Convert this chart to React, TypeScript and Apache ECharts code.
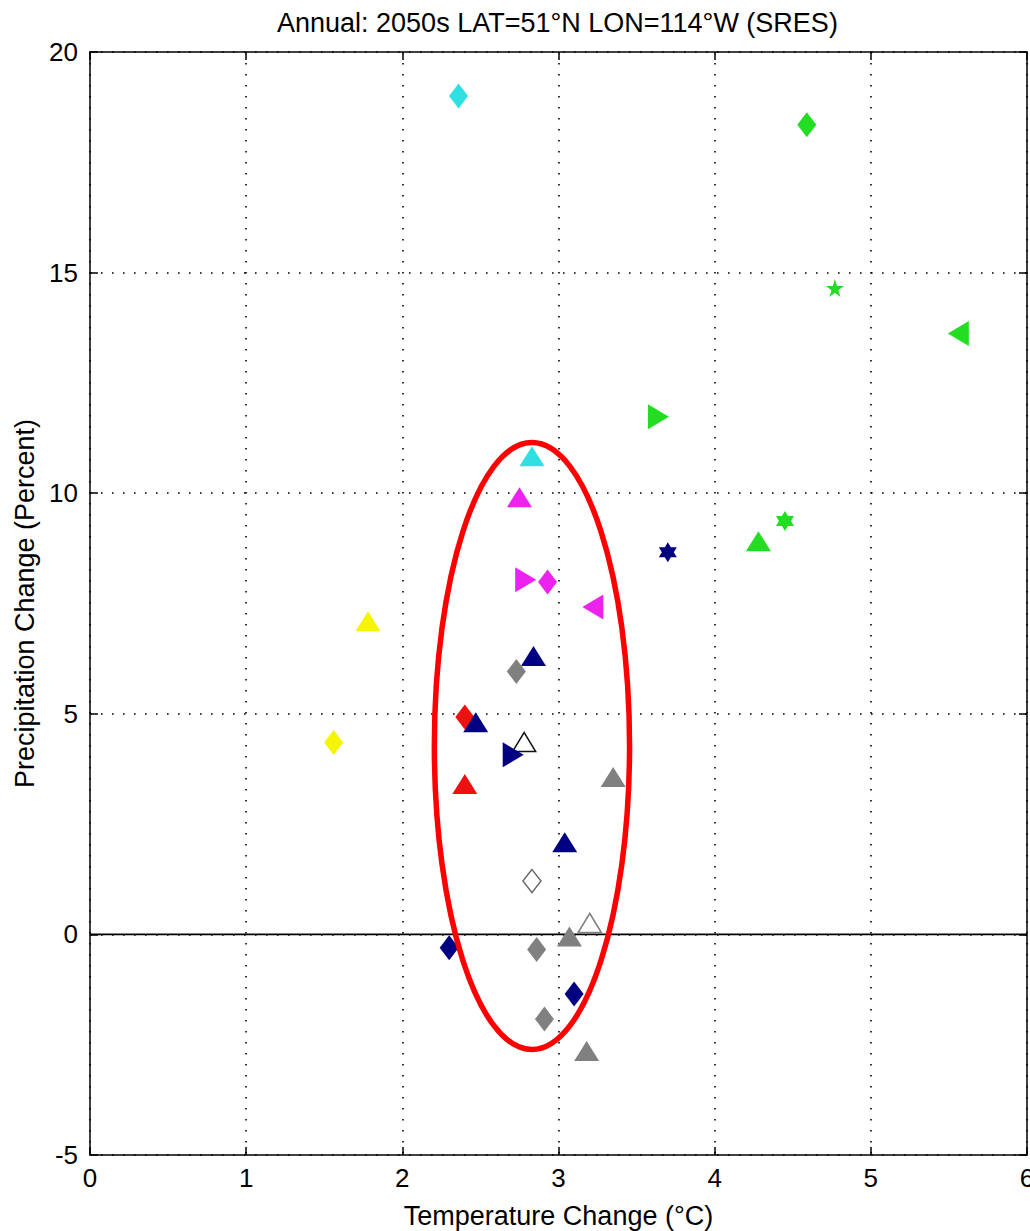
import React, { useEffect, useRef } from "react";
import * as echarts from "echarts";

// ---- Data ----
const titleText = "Annual: 2050s LAT=51\u00B0N LON=114\u00B0W (SRES)";
const xAxisName = "Temperature Change (\u00B0C)";
const yAxisName = "Precipitation Change (Percent)";

const X_MIN = 0;
const X_MAX = 6;
const X_INTERVAL = 1;
const Y_MIN = -5;
const Y_MAX = 20;
const Y_INTERVAL = 5;

// temperature change (°C)
const tempChange = [
  2.36, 4.59, 4.77, 5.56, 3.64, 2.83, 2.75, 3.70, 4.45, 4.28,
  2.79, 2.93, 3.22, 1.78, 2.84, 2.73, 2.40, 2.47, 1.56, 2.78,
  2.71, 2.40, 3.35, 3.04, 2.83, 3.20, 3.07, 2.30, 2.86, 3.10,
  2.91, 3.18,
];
// precipitation change (%)
const precipChange = [
  19.0, 18.35, 14.65, 13.62, 11.73, 10.84, 9.91, 8.66, 9.37, 8.91,
  8.04, 7.99, 7.42, 7.10, 6.31, 5.96, 4.93, 4.81, 4.35, 4.36,
  4.07, 3.41, 3.57, 2.09, 1.21, 0.26, -0.05, -0.30, -0.34, -1.35,
  -1.92, -2.64,
];
// marker shape per point
const markerShape = [
  "diamond", "diamond", "pentagram", "triangleLeft", "triangleRight", "triangle", "triangle", "hexagram", "hexagram", "triangle",
  "triangleRight", "diamond", "triangleLeft", "triangle", "triangle", "diamond", "diamond", "triangle", "diamond", "triangleOpen",
  "triangleRight", "triangle", "triangle", "triangle", "diamondOpen", "triangleOpen", "triangle", "diamond", "diamond", "diamond",
  "diamond", "triangle",
];
// marker colour group per point
const markerColor = [
  "cyan", "green", "green", "green", "green", "cyan", "magenta", "navy", "green", "green",
  "magenta", "magenta", "magenta", "yellow", "navy", "gray", "red", "navy", "yellow", "black",
  "navy", "red", "gray", "navy", "darkgray", "gray", "gray", "navy", "gray", "navy",
  "gray", "gray",
];

// highlighted cluster (ellipse): centre and semi-axes in data units
const ellipseCenter = [2.83, 4.27];
const ellipseRadii = [0.625, 6.88];

// ---- Styling ----
const palette: Record<string, string> = {
  cyan: "#30e0e0",
  green: "#22dd22",
  magenta: "#ee22ee",
  yellow: "#f5f500",
  navy: "#000080",
  gray: "#808080",
  red: "#ee1111",
  black: "#111111",
  darkgray: "#666666",
};

const PENTAGRAM =
  "path://M100,0 L122.45,69.1 L195.11,69.1 L136.33,111.8 L158.78,180.9 L100,138.2 L41.22,180.9 L63.67,111.8 L4.89,69.1 L77.55,69.1 Z";
const HEXAGRAM =
  "path://M100,0 L128.87,50 L186.6,50 L157.74,100 L186.6,150 L128.87,150 L100,200 L71.13,150 L13.4,150 L42.26,100 L13.4,50 L71.13,50 Z";

function symbolFor(shape: string, color: string) {
  const c = palette[color];
  const filled = { color: c, borderColor: c, borderWidth: 0, opacity: 1 };
  const open = { color: "#ffffff", borderColor: c, borderWidth: 1.5, opacity: 1 };
  switch (shape) {
    case "diamond":
      return { symbol: "diamond", symbolSize: [19, 25], symbolRotate: 0, itemStyle: filled };
    case "diamondOpen":
      return { symbol: "diamond", symbolSize: [18, 23], symbolRotate: 0, itemStyle: open };
    case "triangle":
      return { symbol: "triangle", symbolSize: [25, 20], symbolRotate: 0, itemStyle: filled };
    case "triangleOpen":
      return { symbol: "triangle", symbolSize: [23, 19], symbolRotate: 0, itemStyle: open };
    case "triangleLeft":
      return { symbol: "triangle", symbolSize: [25, 21], symbolRotate: 90, itemStyle: filled };
    case "triangleRight":
      return { symbol: "triangle", symbolSize: [25, 21], symbolRotate: -90, itemStyle: filled };
    case "pentagram":
      return { symbol: PENTAGRAM, symbolSize: [18, 18], symbolRotate: 0, itemStyle: filled };
    case "hexagram":
      return { symbol: HEXAGRAM, symbolSize: [18, 20], symbolRotate: 0, itemStyle: filled };
    default:
      return { symbol: "circle", symbolSize: 10, symbolRotate: 0, itemStyle: filled };
  }
}

const FONT = "'Liberation Sans', Arial, sans-serif";

export default function App() {
  const ref = useRef<HTMLDivElement>(null);

  useEffect(() => {
    document.body.style.margin = "0";
    document.body.style.overflow = "hidden";
    document.documentElement.style.overflow = "hidden";
    if (!ref.current) return;
    const chart = echarts.init(ref.current, undefined, { renderer: "svg", width: 1030, height: 1231 });

    const points = tempChange.map((t, i) => ({
      value: [t, precipChange[i]],
      ...symbolFor(markerShape[i], markerColor[i]),
    }));

    const tickStyle = { show: true, inside: true, length: 8, lineStyle: { color: "#000", width: 1.5 } };
    const lineStyle = { show: true, onZero: false, lineStyle: { color: "#000", width: 1.5 } };
    const gridDots = { show: true, lineStyle: { color: "#000", width: 1.6, type: [1.6, 9.4] as any } };
    const labelStyle = { color: "#000", fontFamily: FONT, fontSize: 26 };

    chart.setOption({
      animation: false,
      backgroundColor: "#ffffff",
      title: {
        text: titleText,
        left: 272,
        top: 4,
        textStyle: { color: "#000", fontFamily: FONT, fontSize: 27, fontWeight: "normal" },
      },
      grid: {
        left: 90,
        right: 3,
        top: 52,
        bottom: 76,
        containLabel: false,
        outerBoundsMode: "none",
      },
      xAxis: [
        {
          type: "value",
          position: "bottom",
          min: X_MIN,
          max: X_MAX,
          interval: X_INTERVAL,
          name: xAxisName,
          nameLocation: "middle",
          nameGap: 47,
          nameTextStyle: { color: "#000", fontFamily: FONT, fontSize: 27 },
          axisLine: lineStyle,
          axisTick: tickStyle,
          axisLabel: { ...labelStyle, margin: 10, showMaxLabel: true, showMinLabel: true },
          splitLine: gridDots,
        },
        {
          type: "value",
          position: "top",
          min: X_MIN,
          max: X_MAX,
          interval: X_INTERVAL,
          axisLine: lineStyle,
          axisTick: tickStyle,
          axisLabel: { show: false },
          splitLine: { show: false },
        },
      ],
      yAxis: [
        {
          type: "value",
          position: "left",
          min: Y_MIN,
          max: Y_MAX,
          interval: Y_INTERVAL,
          name: yAxisName,
          nameLocation: "middle",
          nameGap: 52,
          nameTextStyle: { color: "#000", fontFamily: FONT, fontSize: 27 },
          axisLine: lineStyle,
          axisTick: tickStyle,
          axisLabel: { ...labelStyle, margin: 12 },
          splitLine: gridDots,
        },
        {
          type: "value",
          position: "right",
          min: Y_MIN,
          max: Y_MAX,
          interval: Y_INTERVAL,
          axisLine: lineStyle,
          axisTick: tickStyle,
          axisLabel: { show: false },
          splitLine: { show: false },
        },
      ],
      series: [
        {
          name: "zero",
          type: "line",
          data: [
            [X_MIN, 0],
            [X_MAX, 0],
          ],
          symbol: "none",
          silent: true,
          lineStyle: { color: "#000", width: 1.8 },
          z: 1,
        },
        {
          name: "models",
          type: "scatter",
          data: points,
          itemStyle: { opacity: 1 },
          z: 3,
        },
        {
          name: "cluster",
          type: "custom",
          silent: true,
          z: 4,
          data: [[ellipseCenter[0], ellipseCenter[1], ellipseRadii[0], ellipseRadii[1]]],
          renderItem: (_params: any, api: any) => {
            const cx = api.value(0);
            const cy = api.value(1);
            const rx = api.value(2);
            const ry = api.value(3);
            const c = api.coord([cx, cy]);
            const ex = api.coord([cx + rx, cy]);
            const ey = api.coord([cx, cy + ry]);
            return {
              type: "ellipse",
              shape: { cx: c[0], cy: c[1], rx: Math.abs(ex[0] - c[0]), ry: Math.abs(c[1] - ey[1]) },
              style: { fill: "none", stroke: "#ff0000", lineWidth: 5.5 },
            };
          },
        },
      ],
    });

    return () => chart.dispose();
  }, []);

  return <div ref={ref} style={{ width: 1030, height: 1231 }} />;
}
